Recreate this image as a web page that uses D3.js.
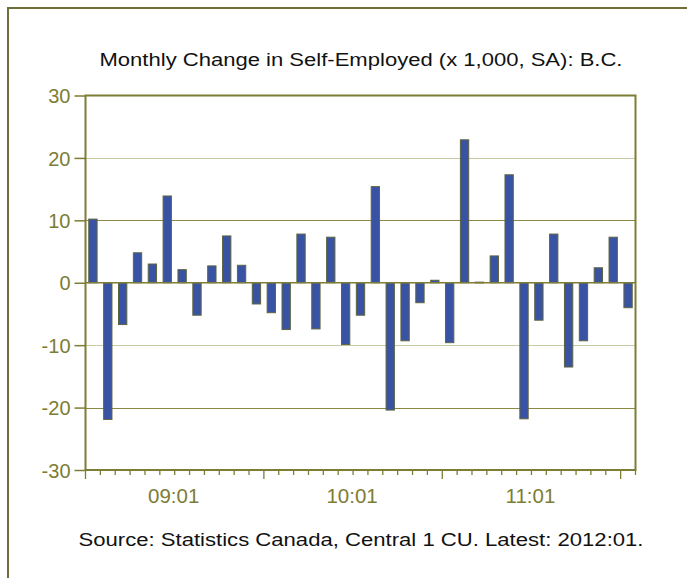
<!DOCTYPE html>
<html><head><meta charset="utf-8">
<script src="https://cdn.jsdelivr.net/npm/d3@7"></script>
<style>html,body{margin:0;padding:0;background:#fff;}svg{display:block;}</style>
</head><body>
<script>
const title = "Monthly Change in Self-Employed (x 1,000, SA): B.C.";
const source = "Source: Statistics Canada, Central 1 CU. Latest: 2012:01.";
const months = [];
for (let y = 2009; y <= 2011; y++) for (let m = 1; m <= 12; m++) months.push(String(y).slice(2) + ":" + String(m).padStart(2, "0"));
months.push("12:01");
const values = [10.2, -21.9, -6.7, 4.8, 3.0, 13.9, 2.1, -5.2, 2.7, 7.5, 2.8, -3.4,
                -4.8, -7.5, 7.8, -7.4, 7.3, -9.9, -5.2, 15.4, -20.4, -9.3, -3.2, 0.4,
                -9.6, 22.9, 0.1, 4.3, 17.3, -21.8, -6.0, 7.8, -13.5, -9.3, 2.4, 7.3, -4.0];
const yTicks = [-30, -20, -10, 0, 10, 20, 30];
const xLabels = ["09:01", "10:01", "11:01"];

const W = 687, H = 578;
const olive = "#7d7d34";
const font = "Liberation Sans, Arial, sans-serif";
const svg = d3.select("body").append("svg").attr("width", W).attr("height", H);

// frame
svg.append("path").attr("d", `M8,${H} L8,8 L${W},8`).attr("fill", "none").attr("stroke", "#6e6e3a").attr("stroke-width", 2);

const L = 85.5, R = 635.5, T = 95.5, B = 470;
const x = d3.scaleBand().domain(months).range([L, R]).paddingInner(0.44).paddingOuter(0.22);
const step = (R - L) / months.length;
const y = d3.scaleLinear().domain([-30, 30]).range([B, T]);

// gridlines
const gridCol = {20: "#c9c9a4", 10: "#8a8a45", "-10": "#c9c9a4", "-20": "#8a8a45"};
svg.append("g").selectAll("line").data([-20, -10, 10, 20]).join("line")
  .attr("x1", L).attr("x2", R).attr("y1", d => Math.round(y(d)) + 0.5).attr("y2", d => Math.round(y(d)) + 0.5)
  .attr("stroke", d => gridCol[d]).attr("stroke-width", 1.2);

// bars
svg.append("g").selectAll("rect").data(values).join("rect")
  .attr("x", (d, i) => x(months[i]))
  .attr("width", x.bandwidth())
  .attr("y", d => y(Math.max(0, d)))
  .attr("height", d => Math.max(0.8, Math.abs(y(d) - y(0))))
  .attr("fill", "#3953a4").attr("stroke", "#5f6440").attr("stroke-width", 1);

// zero line
svg.append("line").attr("x1", L).attr("x2", R).attr("y1", y(0)).attr("y2", y(0)).attr("stroke", "#7d7d34").attr("stroke-width", 1.3);

// plot border
svg.append("rect").attr("x", L).attr("y", T).attr("width", R - L).attr("height", B - T)
  .attr("fill", "none").attr("stroke", olive).attr("stroke-width", 2);

// y axis
const yAxis = d3.axisLeft(y).tickValues(yTicks).tickSize(11).tickPadding(4).tickFormat(d => String(d));
const gy = svg.append("g").attr("transform", `translate(${L},0)`).call(yAxis);
gy.select(".domain").remove();
gy.selectAll("line").attr("stroke", olive).attr("stroke-width", 1.5);
gy.selectAll("text").attr("fill", "#7d7d34").attr("font-family", font).attr("font-size", 20)
  .attr("dy", "0.36em");

// x ticks (month boundaries)
const bounds = d3.range(months.length + 1);
svg.append("g").selectAll("line").data(bounds).join("line")
  .attr("x1", i => L + i * step).attr("x2", i => L + i * step)
  .attr("y1", B).attr("y2", i => (i % 12 === 0) ? B + 9 : B + 5)
  .attr("stroke", olive).attr("stroke-width", 1.3);

// x labels, centered on each year
svg.append("g").selectAll("text").data(xLabels).join("text")
  .attr("x", (d, i) => L + (i * 12 + 6) * step - 1)
  .attr("y", 503)
  .attr("text-anchor", "middle")
  .attr("fill", "#7d7d34").attr("font-family", font).attr("font-size", 20.5)
  .text(d => d);

svg.append("text").attr("x", 361).attr("y", 66).attr("text-anchor", "middle")
  .attr("font-family", font).attr("font-size", 17.5).attr("fill", "#111")
  .attr("textLength", 523).attr("lengthAdjust", "spacingAndGlyphs")
  .text(title);
svg.append("text").attr("x", 361).attr("y", 546).attr("text-anchor", "middle")
  .attr("font-family", font).attr("font-size", 17.5).attr("fill", "#111")
  .attr("textLength", 565).attr("lengthAdjust", "spacingAndGlyphs")
  .text(source);
</script>
</body></html>
